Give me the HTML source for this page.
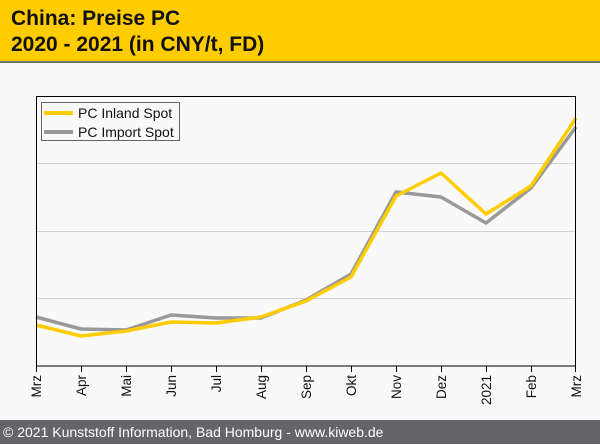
<!DOCTYPE html>
<html><head><meta charset="utf-8"><style>
body{margin:0;width:600px;height:444px;overflow:hidden;background:#f9f9f9;font-family:"Liberation Sans",Arial,sans-serif}
.hd{position:absolute;left:0;top:0;width:600px;height:61px;background:#ffcc00;border-bottom:2px solid #737373}
.hd div{position:absolute;left:11px;font-weight:bold;font-size:21px;color:#111}
.ft{position:absolute;left:0;top:420px;width:600px;height:24px;background:#646469;color:#fff;font-size:14px;line-height:25px;padding-left:3px}
</style></head><body>
<div class="hd"><div style="top:7px">China: Preise PC</div><div style="top:33px">2020 - 2021 (in CNY/t, FD)</div></div>
<svg width="600" height="444" style="position:absolute;left:0;top:0">
<g stroke="#d2d2d2" stroke-width="1">
<line x1="36" y1="163.5" x2="576" y2="163.5"/><line x1="36" y1="231.5" x2="576" y2="231.5"/><line x1="36" y1="298.5" x2="576" y2="298.5"/>
</g>
<polyline fill="none" stroke="#999" stroke-width="3.5" stroke-linejoin="round" points="36,317 81,329 126,330 171,315 216,318 261,318 306,300 351,274 396,192 441,197 486,223 531,188 576,127"/>
<polyline fill="none" stroke="#ffcc00" stroke-width="3.5" stroke-linejoin="round" points="36,325 81,336 126,331 171,322 216,323 261,317 306,301 351,277 396,196 441,173 486,214 531,186 576,118"/>
<rect x="36.5" y="96.5" width="539" height="269.5" fill="none" stroke="#000" stroke-width="1"/>
<g stroke="#000">
<line x1="36.5" y1="366" x2="36.5" y2="372"/><line x1="81.5" y1="366" x2="81.5" y2="372"/><line x1="126.5" y1="366" x2="126.5" y2="372"/><line x1="171.5" y1="366" x2="171.5" y2="372"/><line x1="216.5" y1="366" x2="216.5" y2="372"/><line x1="261.5" y1="366" x2="261.5" y2="372"/><line x1="306.5" y1="366" x2="306.5" y2="372"/><line x1="351.5" y1="366" x2="351.5" y2="372"/><line x1="396.5" y1="366" x2="396.5" y2="372"/><line x1="441.5" y1="366" x2="441.5" y2="372"/><line x1="486.5" y1="366" x2="486.5" y2="372"/><line x1="531.5" y1="366" x2="531.5" y2="372"/><line x1="575.5" y1="366" x2="575.5" y2="372"/>
</g>
<g font-size="13.5" fill="#111" text-anchor="end" font-family="Liberation Sans,Arial,sans-serif">
<text transform="translate(41,375) rotate(-90)">Mrz</text>
<text transform="translate(86,375) rotate(-90)">Apr</text>
<text transform="translate(131,375) rotate(-90)">Mai</text>
<text transform="translate(176,375) rotate(-90)">Jun</text>
<text transform="translate(221,375) rotate(-90)">Jul</text>
<text transform="translate(266,375) rotate(-90)">Aug</text>
<text transform="translate(311,375) rotate(-90)">Sep</text>
<text transform="translate(356,375) rotate(-90)">Okt</text>
<text transform="translate(401,375) rotate(-90)">Nov</text>
<text transform="translate(446,375) rotate(-90)">Dez</text>
<text transform="translate(491,375) rotate(-90)">2021</text>
<text transform="translate(536,375) rotate(-90)">Feb</text>
<text transform="translate(581,375) rotate(-90)">Mrz</text>
</g>
<rect x="41.5" y="102.5" width="138" height="38" fill="#f9f9f9" stroke="#666"/>
<line x1="44" y1="113" x2="73" y2="113" stroke="#ffcc00" stroke-width="4"/>
<line x1="44" y1="132" x2="73" y2="132" stroke="#999" stroke-width="4"/>
<g font-size="14" fill="#111" font-family="Liberation Sans,Arial,sans-serif">
<text x="78" y="118">PC Inland Spot</text><text x="78" y="137">PC Import Spot</text>
</g>
</svg>
<div class="ft">© 2021 Kunststoff Information, Bad Homburg - www.kiweb.de</div>
</body></html>
